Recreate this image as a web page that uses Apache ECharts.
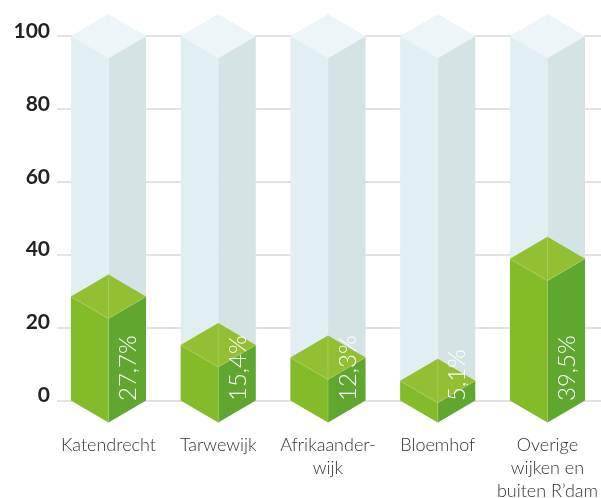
<!DOCTYPE html>
<html><head><meta charset="utf-8">
<style>html,body{margin:0;padding:0;background:#fff}#c{width:601px;height:498px}</style>
<script src="https://cdn.jsdelivr.net/npm/echarts@6/dist/echarts.min.js"></script>
</head><body><div id="c"></div>
<script>
const categories = ['Katendrecht','Tarwewijk','Afrikaander-\nwijk','Bloemhof','Overige\nwijken en\nbuiten R’dam'];
const drawnHeights = [28.5, 15.2, 11.8, 5.4, 38.9];
const fullHeights = [100, 100, 100, 100, 100];
const shareLabels = ['27,7%','15,4%','12,3%','5,1%','39,5%'];
const yTicks = [0, 20, 40, 60, 80, 100];

const ghostColors = {left:'#e1eef2', right:'#d4e3e4', top:'#eef5f8', edge:'#eaf3f5'};
const greenColors = {left:'#84bb29', right:'#60a730', top:'#93c032', edge:'#b3d36f'};

function prism(colors, withLabel) {
  return function (params, api) {
    const i = api.value(0);
    const [cx, topY] = api.coord([i, api.value(1)]);
    const [, baseY] = api.coord([i, 0]);
    const hw = api.size([1, 0])[0] * 0.342;
    const dy = 22;
    const poly = (pts, fill) => ({type:'polygon', shape:{points:pts}, style:{fill, stroke:'none'}});
    const seg = (x1,y1,x2,y2) => ({type:'line', shape:{x1,y1,x2,y2}, style:{stroke:colors.edge, lineWidth:0.7, opacity:0.8}});
    const children = [
      poly([[cx-hw,topY],[cx,topY+dy],[cx,baseY+dy],[cx-hw,baseY]], colors.left),
      poly([[cx+hw,topY],[cx,topY+dy],[cx,baseY+dy],[cx+hw,baseY]], colors.right),
      poly([[cx-hw,topY],[cx,topY-dy],[cx+hw,topY],[cx,topY+dy]], colors.top),
      seg(cx,topY-dy,cx,topY+dy), seg(cx-hw,topY,cx,topY+dy), seg(cx+hw,topY,cx,topY+dy), seg(cx,topY+dy,cx,baseY+dy)
    ];
    if (withLabel) {
      children.push({type:'text', x:cx+20, y:baseY+0.5, rotation:Math.PI/2,
        style:{x:0, y:0, text:shareLabels[i], fill:'#fff', font:'300 24px Lato', align:'left', verticalAlign:'middle'}});
    }
    return {type:'group', children};
  };
}
const chart = echarts.init(document.getElementById('c'), null, {renderer:'canvas'});
chart.setOption({
  animation:false,
  backgroundColor:'#fff',
  grid:[
    {left:57, right:0, top:36, height:364.5, outerBoundsMode:'none'},
    {left:53.6, width:548.75, top:36, height:364.5, outerBoundsMode:'none'}
  ],
  xAxis:[
    {gridIndex:0, type:'category', show:false, data:categories},
    {gridIndex:1, type:'category', data:categories, axisLine:{show:false}, axisTick:{show:false},
     axisLabel:{interval:0, margin:33, color:'#333', fontFamily:'Lato', fontWeight:300, fontSize:18, lineHeight:23, align:'center', verticalAlign:'top', hideOverlap:false}}
  ],
  yAxis:[
    {gridIndex:0, type:'value', min:yTicks[0], max:yTicks[yTicks.length-1], interval:yTicks[1]-yTicks[0],
     axisLine:{show:false}, axisTick:{show:false},
     axisLabel:{margin:7, color:'#222', fontFamily:'Lato', fontWeight:700, fontSize:21, verticalAlign:'bottom', lineHeight:10},
     splitLine:{show:true, lineStyle:{color:'#d9d9d9', width:1.5}}},
    {gridIndex:1, type:'value', min:0, max:100, show:false}
  ],
  series:[
    {type:'custom', xAxisIndex:1, yAxisIndex:1, clip:false, silent:true, z:2,
     renderItem:prism(ghostColors,false), data:fullHeights.map((v,i)=>[i,v]), encode:{x:0,y:1}},
    {type:'custom', xAxisIndex:1, yAxisIndex:1, clip:false, silent:true, z:3,
     renderItem:prism(greenColors,true), data:drawnHeights.map((v,i)=>[i,v]), encode:{x:0,y:1}}
  ]
});
</script></body></html>
